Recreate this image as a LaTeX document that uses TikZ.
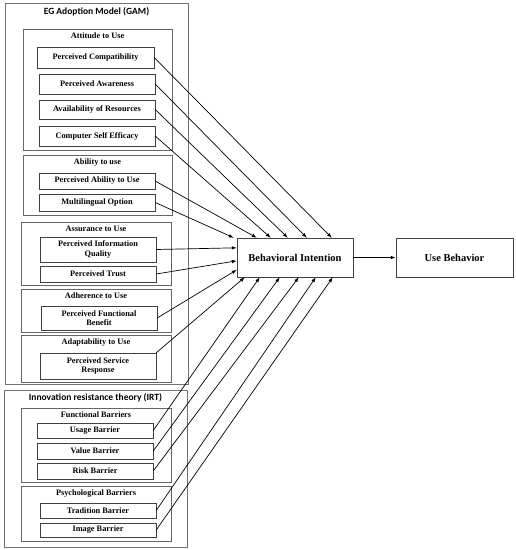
\documentclass[tikz,border=0pt]{standalone}
\usepackage{fontspec}
\setmainfont{Liberation Serif}
\newfontfamily\headfont{Carlito}
\usetikzlibrary{positioning,arrows.meta}

\tikzset{
  >={Latex[length=5pt, width=3.6pt]},
  box/.style={draw=black!75, thin, align=center, inner sep=1pt,
    font=\fontsize{8.3}{9.3}\selectfont\bfseries},
  group/.style={draw=black!60, thin},
  outer/.style={draw=black!55, line width=0.8pt},
  grouptitle/.style={inner sep=1pt, font=\fontsize{8.3}{9.5}\selectfont\bfseries},
  headtitle/.style={inner sep=1pt, font=\headfont\fontsize{9.5}{11}\selectfont\bfseries},
  bigbox/.style={draw=black!75, thin, minimum width=116pt, minimum height=39pt,
    font=\fontsize{10.5}{12}\selectfont\bfseries},
  link/.style={->, black, line width=0.7pt},
}

\begin{document}
\begin{tikzpicture}[x=1pt, y=-1pt]
  \useasboundingbox (0,0) rectangle (516,550);

  % GAM block
  \node[outer, minimum width=183pt, minimum height=381pt] (gam) at (96.5,193.5) {};
  \node[headtitle, below=4pt of gam.north] (gamT) {EG Adoption Model (GAM)};

  % Attitude to Use
  \node[group, minimum width=149pt, minimum height=121pt] (att) at (97.5,89.5) {};
  \node[grouptitle, below=3pt of att.north] (attT) {Attitude to Use};
  \node[box, minimum width=117pt, minimum height=21pt] (pc) at (95.5,57.5) {Perceived Compatibility};
  \node[box, minimum width=116pt, minimum height=20pt] (pa) at (97,84) {Perceived Awareness};
  \node[box, minimum width=116pt, minimum height=19pt] (ar) at (97,109.5) {Availability of Resources};
  \node[box, minimum width=116pt, minimum height=20pt] (cse) at (97,136) {Computer Self Efficacy};

  % Ability to use
  \node[group, minimum width=149pt, minimum height=60pt] (abi) at (97.5,185) {};
  \node[grouptitle, below=3pt of abi.north] (abiT) {Ability to use};
  \node[box, minimum width=116pt, minimum height=16pt] (pau) at (97,181) {Perceived Ability to Use};
  \node[box, minimum width=116pt, minimum height=17pt] (mo) at (97,202.5) {Multilingual Option};

  % Assurance to Use
  \node[group, minimum width=150pt, minimum height=63pt] (ass) at (96,253.5) {};
  \node[grouptitle, below=3pt of ass.north] (assT) {Assurance to Use};
  \node[box, minimum width=116pt, minimum height=25pt] (piq) at (98,249.5) {Perceived Information\\Quality};
  \node[box, minimum width=116pt, minimum height=16pt] (pt) at (98,274) {Perceived Trust};

  % Adherence to Use
  \node[group, minimum width=150pt, minimum height=43pt] (adh) at (96,310.5) {};
  \node[grouptitle, below=3pt of adh.north] (adhT) {Adherence to Use};
  \node[box, minimum width=116pt, minimum height=24pt] (pfb) at (99,318) {Perceived Functional\\Benefit};

  % Adaptability to Use
  \node[group, minimum width=150pt, minimum height=47pt] (adp) at (96,358.5) {};
  \node[grouptitle, below=3pt of adp.north] (adpT) {Adaptability to Use};
  \node[box, minimum width=116pt, minimum height=26pt] (psr) at (98,366) {Perceived Service\\Response};

  % IRT block
  \node[outer, minimum width=183pt, minimum height=157pt] (irt) at (95.5,468.5) {};
  \node[headtitle, below=3pt of irt.north] (irtT) {Innovation resistance theory (IRT)};

  % Functional Barriers
  \node[group, minimum width=150pt, minimum height=74pt] (fb) at (96,445) {};
  \node[grouptitle, below=3pt of fb.north] (fbT) {Functional Barriers};
  \node[box, minimum width=116pt, minimum height=15pt] (ub) at (95,430.5) {Usage Barrier};
  \node[box, minimum width=116pt, minimum height=16pt] (vb) at (95,451) {Value Barrier};
  \node[box, minimum width=116pt, minimum height=16pt] (rb) at (95,471) {Risk Barrier};

  % Psychological Barriers
  \node[group, minimum width=150pt, minimum height=55pt] (psy) at (96,513.5) {};
  \node[grouptitle, below=3pt of psy.north] (psyT) {Psychological Barriers};
  \node[box, minimum width=116pt, minimum height=15pt] (tb) at (98,510.5) {Tradition Barrier};
  \node[box, minimum width=116pt, minimum height=14pt] (ib) at (98,530) {Image Barrier};

  % Outcome boxes
  \node[bigbox] (bi) at (295,257.5) {Behavioral Intention};
  \node[bigbox, minimum width=117pt] (ubh) at (454.5,257.5) {Use Behavior};

  % Arrows into top of BI
  \foreach \n/\d in {pc/95, pa/70, ar/51, cse/34, pau/20} {
    \draw[link] (\n.east) -- ([xshift=\d pt]bi.north west);
  }
  \draw[link] (mo.east) -- ([xshift=-3pt]bi.north west);

  % Arrows into left side of BI
  \foreach \n/\d in {piq/10, pt/23, pfb/32} {
    \draw[link] (\n.east) -- ([yshift=-\d pt]bi.north west);
  }

  % Arrows into bottom of BI
  \draw[link] (psr.north east) -- ([xshift=8pt]bi.south west);
  \foreach \n/\d in {ub/23, vb/43, rb/62, tb/79, ib/96} {
    \draw[link] (\n.east) -- ([xshift=\d pt]bi.south west);
  }

  \draw[->, line width=1.2pt] (bi) -- (ubh);
\end{tikzpicture}
\end{document}
